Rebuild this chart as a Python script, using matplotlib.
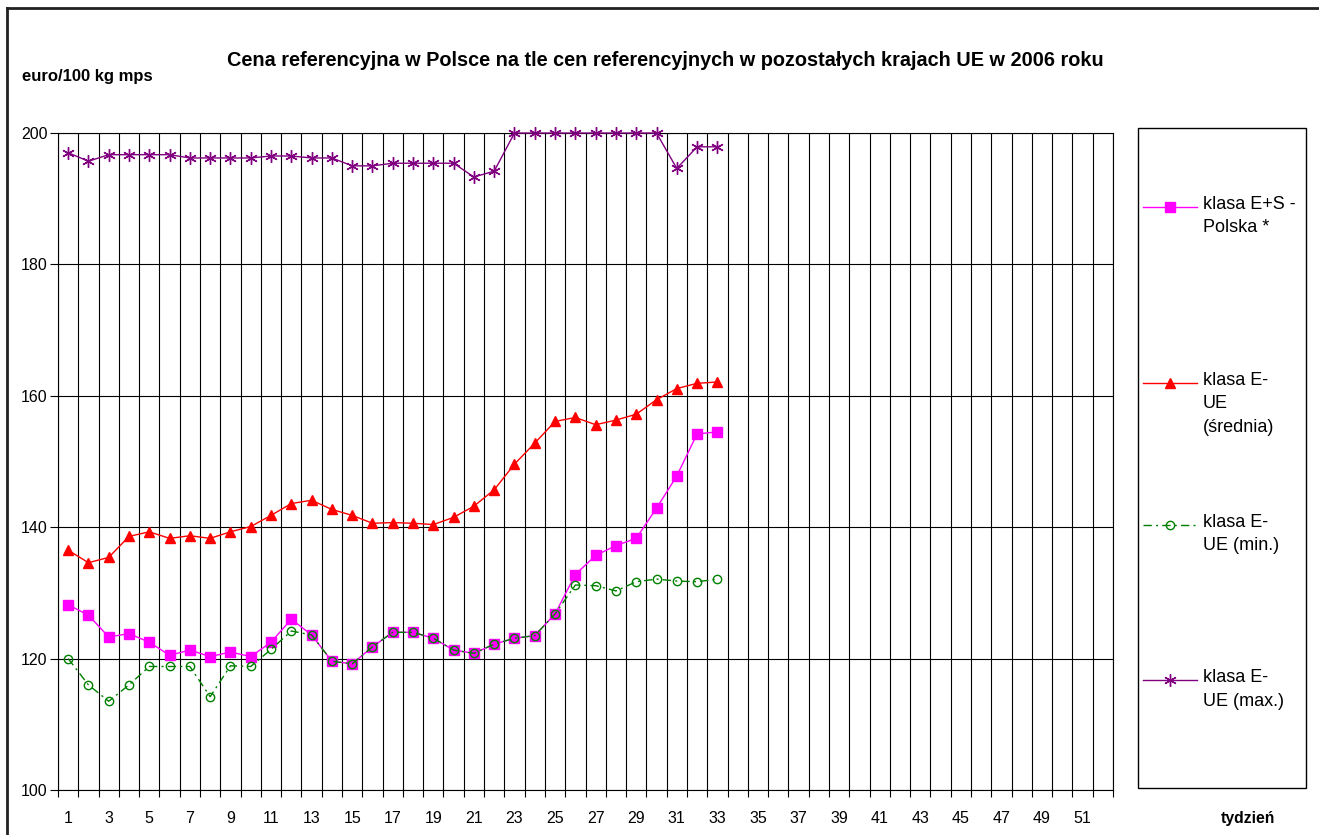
import matplotlib
matplotlib.use('Agg')
import matplotlib.pyplot as plt
from matplotlib.lines import Line2D
import numpy as np

plt.rcParams['font.family'] = ['Liberation Sans', 'DejaVu Sans']

# tydzień 1..33 (reszta roku pusta)
weeks = list(range(1, 34))
all_weeks = list(range(1, 53))
polska = [128.2, 126.6, 123.3, 123.8, 122.5, 120.5, 121.3, 120.3, 121.0, 120.3,
          122.5, 126.0, 123.6, 119.6, 119.2, 121.8, 124.0, 124.0, 123.1, 121.3,
          120.8, 122.2, 123.1, 123.5, 126.8, 132.8, 135.7, 137.2, 138.3, 142.9,
          147.8, 154.2, 154.5]
ue_srednia = [136.5, 134.6, 135.4, 138.6, 139.3, 138.3, 138.7, 138.3, 139.3, 140.1,
              141.8, 143.6, 144.1, 142.7, 141.8, 140.6, 140.7, 140.6, 140.4, 141.5,
              143.2, 145.7, 149.6, 152.8, 156.1, 156.7, 155.6, 156.3, 157.2, 159.4,
              161.1, 161.9, 162.1]
ue_min = [120.0, 116.0, 113.5, 116.0, 118.8, 118.8, 118.8, 114.2, 118.9, 118.8,
          121.4, 124.2, 123.6, 119.6, 119.2, 121.8, 124.0, 124.0, 123.1, 121.3,
          120.8, 122.2, 123.1, 123.5, 126.8, 131.2, 131.1, 130.3, 131.7, 132.1,
          131.8, 131.7, 132.1]
ue_max = [197.0, 195.7, 196.7, 196.7, 196.7, 196.7, 196.2, 196.2, 196.2, 196.2,
          196.5, 196.5, 196.2, 196.2, 195.0, 195.0, 195.4, 195.4, 195.4, 195.4,
          193.3, 194.2, 200.0, 200.0, 200.0, 200.0, 200.0, 200.0, 200.0, 200.0,
          194.6, 197.9, 197.9]
labels = ["klasa E+S -\nPolska *", "klasa E-\nUE\n(średnia)",
          "klasa E-\nUE (min.)", "klasa E-\nUE (max.)"]
colors = ['#FF00FF', '#FF0000', '#008000', '#800080']
yticks = [100, 120, 140, 160, 180, 200]

W, H = 1319, 835
fig = plt.figure(figsize=(W / 100, H / 100), dpi=100)
ax = fig.add_axes([58 / W, 1 - 790 / H, (1113 - 58) / W, (790 - 133) / H])

styles = [
    dict(marker='s', ms=6.5, ls='-', lw=1.0),
    dict(marker='^', ms=7, ls='-', lw=1.0),
    dict(marker='o', ms=6, ls=(0, (6, 3, 1.5, 3)), lw=1.0, mfc='none', mew=1.0),
    dict(marker=(6, 2, 0), ms=9, ls='-', lw=1.0, mew=1.0),
]
series = [polska, ue_srednia, ue_min, ue_max]
for vals, c, st in zip(series, colors, styles):
    ax.plot(weeks, vals, color=c, mec=c, clip_on=False, zorder=3, **st)

ax.set_xlim(0.5, 52.5)
ax.set_ylim(100, 200)
ax.set_yticks(yticks)
ax.set_xticks(np.arange(0.5, 53, 1))
ax.set_xticklabels([])
ax.set_xticks(all_weeks[::2], minor=True)
ax.set_xticklabels([str(w) for w in all_weeks[::2]], minor=True)
ax.tick_params(axis='x', which='major', direction='out', length=5, width=0.8)
ax.tick_params(axis='x', which='minor', length=0, pad=15, labelsize=11.5)
ax.tick_params(axis='y', direction='out', length=6, width=0.8, pad=1.5, labelsize=11.5)
ax.grid(axis='x', which='major', color='black', lw=0.8)
ax.grid(axis='y', color='black', lw=0.8)
ax.set_axisbelow(True)
for s in ax.spines.values():
    s.set_linewidth(0.8)

fig.text(665 / W, 1 - 60 / H,
         'Cena referencyjna w Polsce na tle cen referencyjnych w pozostałych krajach UE w 2006 roku',
         ha='center', va='center', fontsize=14.3, fontweight='bold')
fig.text(22 / W, 1 - 77 / H, 'euro/100 kg mps', ha='left', va='center',
         fontsize=12, fontweight='bold')
fig.text(1248 / W, 1 - 818 / H, 'tydzień', ha='center', va='center',
         fontsize=11.3, fontweight='bold')

# legenda rysowana ręcznie (odstępy jak w Excelu)
lax = fig.add_axes([0, 0, 1, 1], facecolor='none')
lax.set_xlim(0, W)
lax.set_ylim(H, 0)
lax.axis('off')
lax.add_patch(plt.Rectangle((1138, 128), 168, 660, fill=False, ec='black', lw=1.0))
entry_y = [207, 383, 525, 680]
for lab, c, st, y in zip(labels, colors, styles, entry_y):
    lax.add_line(Line2D([1143, 1197], [y, y], color=c, lw=st['lw'], ls=st['ls']))
    mk = {k: v for k, v in st.items() if k in ('ms', 'mfc', 'mew')}
    lax.add_line(Line2D([1170], [y], color=c, mec=c, marker=st['marker'], ls='none', **mk))
    lax.text(1203, y - 11, lab, ha='left', va='top', fontsize=13, linespacing=1.5)

# ramka wykresu
lax.add_line(Line2D([7, 7], [H, 8], color='#222222', lw=2))
lax.add_line(Line2D([7, W], [8, 8], color='#222222', lw=2))

fig.savefig('out.png', dpi=100)
